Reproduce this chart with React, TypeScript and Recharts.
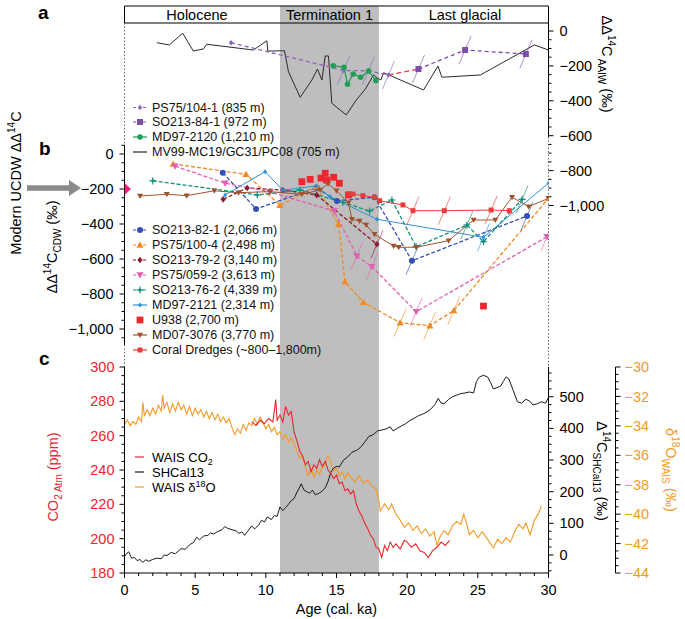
import React from 'react';
import { ComposedChart, Line, XAxis, YAxis, ReferenceArea, ReferenceLine } from 'recharts';

const FONT = '"Liberation Sans", Arial, Helvetica, sans-serif';

type Pt = [number, number, number?]; // [age ka, value, has error line]

// ---- panel a: ΔΔ14C AAIW (‰) ----
const mv99: Pt[] = [[2.28,-67],[3.17,-80],[4.12,-13],[4.87,-115],[5.58,-103],[5.82,-76],[9.12,-109],[10.07,-56],[10.14,-115],[11.32,-113],[11.6,-233],[12.43,-380],[13.26,-281],[13.65,-218],[13.97,-281],[14.2,-143],[14.43,-143],[14.67,-414],[15.26,-453],[15.69,-481],[16.44,-391],[17.03,-334],[17.62,-252],[17.81,-265],[18.14,-281],[18.33,-239],[21.16,-338],[22.18,-201],[22.46,-265],[25.18,-252],[29.0,-80],[30.0,-109]];
const ps75_104: Pt[] = [[7.54,-67],[15.5,-226,1],[17.25,-228,1],[18.68,-252,1]];
const aaiwLink: Pt[] = [[18.68,-252],[20.8,-218]];
const so213_84: Pt[] = [[20.8,-218,1],[24.1,-109,1],[28.4,-132,1]];
const md97_2120: Pt[] = [[14.77,-199],[15.53,-208],[15.78,-305],[16.18,-246],[16.71,-265],[17.27,-229],[17.79,-284]];

// ---- panel b: ΔΔ14C CDW (‰) ----
const so213_82: Pt[] = [[6.95,-107],[9.31,-314],[13.6,-193],[15.03,-269],[17.69,-247],[20.34,-610,1],[28.48,-354,1]];
const ps75_100: Pt[] = [[3.45,-57],[8.6,-116],[11.0,-293],[13.6,-187],[15.14,-402],[15.6,-730],[16.9,-847],[19.5,-964,1],[21.6,-981,1],[23.3,-895,1],[30.0,-253]];
const so213_79: Pt[] = [[6.98,-259],[8.68,-194],[11.2,-206],[13.6,-234],[17.86,-516,1]];
const ps75_059: Pt[] = [[3.58,-69],[7.12,-167],[10.3,-217],[14.84,-326],[16.44,-583,1],[17.5,-644,1],[20.64,-901,1],[29.9,-473,1]];
const so213_76: Pt[] = [[2.0,-153],[9.4,-234],[12.43,-206],[15.45,-276],[17.34,-326],[18.92,-263],[20.64,-530],[24.23,-406,1],[25.4,-501],[28.13,-259,1]];
const md97_2121: Pt[] = [[7.12,-234],[9.95,-101],[11.2,-206],[13.56,-183],[14.55,-244],[17.86,-373],[25.4,-476,1],[30.0,-167]];
const u938: Pt[] = [[12.55,-158],[13.14,-145],[13.9,-138],[14.2,-110],[14.3,-149],[14.8,-133],[15.2,-167],[15.85,-234],[25.4,-869]];
const md07_3076: Pt[] = [[1.1,-240],[2.99,-230],[4.4,-238],[6.36,-210],[8.06,-221],[10.3,-215],[12.55,-230],[13.85,-206],[14.4,-170],[15.0,-210],[15.85,-278],[16.09,-373],[16.63,-383],[17.1,-406],[17.69,-459],[19.04,-526],[19.4,-533],[20.64,-533],[22.93,-495],[24.7,-377],[26.24,-377],[27.42,-247],[28.6,-301],[30.0,-253]];
const coral: Pt[] = [[15.85,-229],[16.16,-229],[16.87,-238],[17.69,-247],[18.05,-267],[19.7,-291],[20.41,-324,1],[22.63,-324,1],[25.94,-320,1],[27.23,-324]];
const modernUcdw: Pt[] = [[0,-200]];

// ---- panel c ----
const waisCo2: Pt[] = [[9.0,268],[9.3,266],[9.6,269],[9.9,267],[10.2,270],[10.5,268],[10.7,281],[10.8,269],[11.0,272],[11.2,268],[11.4,277],[11.6,272],[11.8,274],[12.0,262],[12.2,257],[12.4,251],[12.6,248],[12.8,243],[13.0,245],[13.2,239],[13.4,243],[13.6,241],[13.8,246],[14.0,242],[14.2,245],[14.4,240],[14.6,238],[14.8,235],[15.0,237],[15.2,232],[15.4,233],[15.6,228],[15.8,229],[16.0,226],[16.2,228],[16.4,220],[16.6,216],[16.8,213],[17.0,209],[17.2,206],[17.4,202],[17.6,200],[17.8,195],[18.0,194],[18.2,189],[18.4,196],[18.6,193],[18.8,198],[19.0,195],[19.2,197],[19.5,194],[19.8,199],[20.0,198],[20.3,195],[20.6,197],[20.9,193],[21.2,192],[21.5,189],[21.8,193],[22.1,195],[22.4,198],[22.7,196],[23.0,199]];
const shcal13: Pt[] = [[0.0,-5],[0.15,5],[0.3,10],[0.5,-10],[0.7,-8],[0.9,-18],[1.1,-14],[1.3,-24],[1.5,-15],[1.7,-20],[2.0,-14],[2.3,-10],[2.6,-12],[2.8,0],[3.0,-2],[3.3,8],[3.6,4],[4.0,20],[4.3,18],[4.6,32],[4.9,40],[5.1,56],[5.3,48],[5.6,60],[5.9,62],[6.1,70],[6.3,66],[6.6,74],[6.9,80],[7.1,90],[7.3,84],[7.6,80],[7.9,76],[8.1,68],[8.3,73],[8.5,62],[8.7,74],[9.0,92],[9.2,82],[9.5,95],[9.7,110],[9.9,104],[10.1,120],[10.4,112],[10.6,125],[10.8,122],[11.0,152],[11.2,140],[11.4,150],[11.6,160],[11.8,172],[12.0,178],[12.2,198],[12.4,215],[12.5,225],[12.7,205],[12.9,200],[13.1,195],[13.3,205],[13.5,190],[13.8,196],[14.0,202],[14.2,212],[14.4,232],[14.6,262],[14.8,275],[15.0,280],[15.2,278],[15.5,300],[15.8,310],[16.1,325],[16.4,330],[16.7,340],[17.0,357],[17.3,375],[17.6,380],[17.9,392],[18.2,395],[18.5,398],[18.8,405],[19.0,392],[19.3,400],[19.6,408],[19.9,415],[20.2,425],[20.5,432],[20.8,440],[21.1,445],[21.4,452],[21.7,462],[22.0,478],[22.2,495],[22.4,480],[22.6,478],[22.9,490],[23.2,500],[23.5,505],[23.8,510],[24.1,512],[24.4,515],[24.7,512],[24.9,548],[25.1,562],[25.4,568],[25.7,562],[25.9,545],[26.1,525],[26.3,528],[26.6,533],[26.8,548],[27.0,563],[27.2,556],[27.5,520],[27.8,484],[28.1,480],[28.4,492],[28.7,485],[28.9,474],[29.2,478],[29.5,484],[29.8,480],[30.0,498]];
const waisD18O: Pt[] = [[0.0,-33.9],[0.2,-33.6],[0.4,-34.0],[0.6,-33.7],[0.8,-33.9],[1.0,-33.4],[1.2,-33.7],[1.3,-32.4],[1.4,-33.3],[1.6,-32.9],[1.8,-33.3],[2.0,-32.8],[2.2,-33.2],[2.4,-32.6],[2.6,-33.0],[2.7,-31.9],[2.8,-32.8],[3.0,-32.4],[3.2,-33.1],[3.4,-32.5],[3.6,-33.0],[3.8,-32.4],[4.0,-32.9],[4.2,-32.6],[4.4,-33.2],[4.6,-32.7],[4.8,-33.3],[5.0,-32.8],[5.2,-33.2],[5.4,-32.9],[5.6,-33.4],[5.8,-33.0],[6.0,-33.5],[6.2,-33.1],[6.4,-33.6],[6.6,-33.2],[6.8,-33.7],[7.0,-33.4],[7.2,-33.8],[7.4,-33.5],[7.6,-34.1],[7.8,-34.6],[8.0,-34.2],[8.2,-34.5],[8.4,-33.9],[8.6,-34.3],[8.8,-33.8],[9.0,-34.0],[9.2,-33.5],[9.4,-33.9],[9.6,-33.4],[9.8,-33.8],[10.0,-34.2],[10.2,-33.9],[10.4,-34.4],[10.6,-34.1],[10.8,-34.6],[11.0,-34.4],[11.2,-34.9],[11.4,-34.6],[11.6,-35.1],[11.8,-34.8],[12.0,-35.3],[12.2,-35.7],[12.4,-36.2],[12.6,-36.0],[12.8,-36.8],[13.0,-37.4],[13.2,-36.9],[13.4,-37.5],[13.6,-37.0],[13.8,-37.3],[14.0,-36.8],[14.2,-36.6],[14.4,-36.0],[14.6,-36.5],[14.8,-37.1],[15.0,-36.9],[15.2,-37.4],[15.4,-37.1],[15.6,-37.6],[15.8,-37.2],[16.0,-37.5],[16.3,-37.8],[16.6,-37.4],[16.9,-37.9],[17.2,-37.7],[17.5,-38.1],[17.8,-38.3],[18.0,-39.1],[18.1,-39.8],[18.4,-39.3],[18.7,-39.7],[18.9,-39.3],[19.2,-40.0],[19.5,-40.4],[19.8,-40.9],[20.1,-40.6],[20.4,-41.1],[20.7,-40.8],[21.0,-41.3],[21.3,-41.0],[21.6,-41.5],[21.9,-41.2],[22.1,-42.1],[22.3,-41.6],[22.6,-41.1],[22.9,-41.4],[23.2,-40.8],[23.5,-40.5],[23.8,-40.7],[24.0,-40.0],[24.2,-40.6],[24.4,-41.4],[24.7,-41.1],[25.0,-41.6],[25.3,-41.2],[25.6,-41.6],[25.9,-42.0],[26.1,-42.3],[26.4,-41.7],[26.7,-42.0],[27.0,-41.6],[27.3,-41.9],[27.6,-41.2],[27.9,-40.7],[28.2,-41.0],[28.4,-40.6],[28.7,-41.4],[29.0,-40.4],[29.2,-40.1],[29.4,-39.7],[29.5,-39.4]];

// ---- axes / ticks ----
const ticksA = [0,-50,-100,-150,-200,-250,-300,-350,-400,-450,-500,-550,-600,-650,-700,-750,-800,-850,-900,-950,-1000,-1050];
const majorsA = [0,-200,-400,-600,-800,-1000];
const ticksB = [50,0,-50,-100,-150,-200,-250,-300,-350,-400,-450,-500,-550,-600,-650,-700,-750,-800,-850,-900,-950,-1000,-1050];
const majorsB = [0,-200,-400,-600,-800,-1000];
const ticksCo2 = [180,185,190,195,200,205,210,215,220,225,230,235,240,245,250,255,260,265,270,275,280,285,290,295,300];
const majorsCo2 = [180,200,220,240,260,280,300];
const ticksSh = [-50,-25,0,25,50,75,100,125,150,175,200,225,250,275,300,325,350,375,400,425,450,475,500,525,550,575];
const majorsSh = [0,100,200,300,400,500];
const ticksD18 = [-44,-43.5,-43,-42.5,-42,-41.5,-41,-40.5,-40,-39.5,-39,-38.5,-38,-37.5,-37,-36.5,-36,-35.5,-35,-34.5,-34,-33.5,-33,-32.5,-32,-31.5,-31,-30.5,-30];
const majorsD18 = [-44,-42,-40,-38,-36,-34,-32,-30];
const ticksAge = [0,1,2,3,4,5,6,7,8,9,10,11,12,13,14,15,16,17,18,19,20,21,22,23,24,25,26,27,28,29,30];

const DOM_A: [number, number] = [-1925.5, 149];
const DOM_B: [number, number] = [-1217.1, 851.4];
const GRAY = '#bebebe';
const ORANGE = '#f39a26';
const RED = '#e8262e';

const rows = (pts: Pt[]) => pts.map(([x, v, e]) => ({ x, v, e: e ? 1 : 0 }));
const fmt = (v: number) => (v < 0 ? '\u2212' : '') + Math.abs(v).toLocaleString('en-US');

function Mark({ cx, cy, shape, color, s = 3, err }: any) {
  if (cx == null || cy == null || !shape) return <g />;
  let m: any = null;
  if (shape === 'circle') m = <circle cx={cx} cy={cy} r={s} fill={color} />;
  else if (shape === 'square') m = <rect x={cx - s} y={cy - s} width={2 * s} height={2 * s} fill={color} />;
  else if (shape === 'up') m = <polygon points={`${cx},${cy - s} ${cx + s},${cy + s * 0.75} ${cx - s},${cy + s * 0.75}`} fill={color} />;
  else if (shape === 'down') m = <polygon points={`${cx - s},${cy - s * 0.75} ${cx + s},${cy - s * 0.75} ${cx},${cy + s}`} fill={color} />;
  else if (shape === 'diamond') m = <polygon points={`${cx},${cy - s} ${cx + s * 0.8},${cy} ${cx},${cy + s} ${cx - s * 0.8},${cy}`} fill={color} />;
  else if (shape === 'plus')
    m = (
      <g>
        <line x1={cx - s} y1={cy} x2={cx + s} y2={cy} stroke={color} strokeWidth={1.1} />
        <line x1={cx} y1={cy - s} x2={cx} y2={cy + s} stroke={color} strokeWidth={1.1} />
        <polygon points={`${cx},${cy - 2} ${cx + 2},${cy} ${cx},${cy + 2} ${cx - 2},${cy}`} fill={color} />
      </g>
    );
  else if (shape === 'right') m = <polygon points={`${cx},${cy - 6} ${cx + 6.5},${cy} ${cx},${cy + 6}`} fill={color} />;
  return (
    <g>
      {err ? <line x1={cx - 6} y1={cy + 14} x2={cx + 6} y2={cy - 14} stroke={color} strokeOpacity={0.7} strokeWidth={0.9} /> : null}
      {m}
    </g>
  );
}

function YTick(props: any) {
  const { x, y, payload, side, majors, color = '#000', gap = 11 } = props;
  const v = payload.value;
  const major = majors.includes(v);
  const dir = side === 'left' ? -1 : 1;
  const len = major ? 5 : 3;
  return (
    <g>
      <line x1={x} y1={y} x2={x + dir * len} y2={y} stroke="#000" strokeWidth={1} />
      {major && (
        <text x={x + dir * gap} y={y} dy="0.35em" textAnchor={side === 'left' ? 'end' : 'start'} fill={color} fontSize={14.5} fontFamily={FONT}>
          {fmt(v)}
        </text>
      )}
    </g>
  );
}

function XTick(props: any) {
  const { x, y, payload } = props;
  const v = payload.value;
  const major = v % 5 === 0;
  return (
    <g>
      <line x1={x} y1={y} x2={x} y2={y + (major ? 5 : 3)} stroke="#000" strokeWidth={1} />
      {major && (
        <text x={x} y={y + 22} textAnchor="middle" fontSize={14.5} fontFamily={FONT} fill="#000">
          {v}
        </text>
      )}
    </g>
  );
}

type Series = { key: string; label: string; data: Pt[]; color: string; dash?: string; shape?: string; s?: number; width?: number; noLine?: boolean; axis: string };

const seriesA: Series[] = [
  { key: 'mv99', label: 'MV99-MC19/GC31/PC08 (705 m)', data: mv99, color: '#2a2a2a', width: 1, axis: 'a' },
  { key: 'ps75_104', label: 'PS75/104-1 (835 m)', data: ps75_104, color: '#8d63bb', dash: '4 3', shape: 'diamond', s: 2.8, axis: 'a' },
  { key: 'link', label: '', data: aaiwLink, color: '#ee3a3a', dash: '5 3', axis: 'a' },
  { key: 'so213_84', label: 'SO213-84-1 (972 m)', data: so213_84, color: '#7b4ea8', dash: '4 3', shape: 'square', s: 3, axis: 'a' },
  { key: 'md97_2120', label: 'MD97-2120 (1,210 m)', data: md97_2120, color: '#1f9e55', shape: 'circle', s: 2.8, axis: 'a' },
];
const legendA = ['ps75_104', 'so213_84', 'md97_2120', 'mv99'];

const seriesB: Series[] = [
  { key: 'so213_82', label: 'SO213-82-1 (2,066 m)', data: so213_82, color: '#3450b4', dash: '4 2', shape: 'circle', s: 3, axis: 'b' },
  { key: 'ps75_100', label: 'PS75/100-4 (2,498 m)', data: ps75_100, color: '#f28a24', dash: '4 2', shape: 'up', s: 3.6, axis: 'b' },
  { key: 'so213_79', label: 'SO213-79-2 (3,140 m)', data: so213_79, color: '#8b1a2e', dash: '4 2', shape: 'diamond', s: 3.3, axis: 'b' },
  { key: 'ps75_059', label: 'PS75/059-2 (3,613 m)', data: ps75_059, color: '#e060b4', dash: '4 2', shape: 'down', s: 3.6, axis: 'b' },
  { key: 'so213_76', label: 'SO213-76-2 (4,339 m)', data: so213_76, color: '#15917a', dash: '4 2', shape: 'plus', s: 3.6, axis: 'b' },
  { key: 'md97_2121', label: 'MD97-2121 (2,314 m)', data: md97_2121, color: '#2d92d6', shape: 'diamond', s: 2.5, width: 1, axis: 'b' },
  { key: 'u938', label: 'U938 (2,700 m)', data: u938, color: '#ee262e', shape: 'square', s: 3.4, noLine: true, axis: 'b' },
  { key: 'md07_3076', label: 'MD07-3076 (3,770 m)', data: md07_3076, color: '#a0522d', shape: 'down', s: 3, width: 1, axis: 'b' },
  { key: 'coral', label: 'Coral Dredges (~800\u20131,800m)', data: coral, color: '#ec3b3b', shape: 'square', s: 2.5, width: 1, axis: 'b' },
];

function renderSeries(sr: Series) {
  return (
    <Line
      key={sr.key}
      yAxisId={sr.axis}
      data={rows(sr.data)}
      dataKey="v"
      type="linear"
      stroke={sr.noLine ? 'none' : sr.color}
      strokeWidth={sr.width ?? 1.3}
      strokeDasharray={sr.dash}
      isAnimationActive={false}
      dot={sr.shape ? (p: any) => <Mark key={`${sr.key}-${p.index}`} cx={p.cx} cy={p.cy} shape={sr.shape} color={sr.color} s={sr.s} err={p.payload?.e} /> : false}
      activeDot={false}
    />
  );
}

function LegendRow({ sr, x, y }: { sr: Series; x: number; y: number }) {
  return (
    <g>
      {!sr.noLine && <line x1={x - 7} y1={y} x2={x + 7} y2={y} stroke={sr.color} strokeWidth={1.2} strokeDasharray={sr.dash ? '3 2' : undefined} />}
      <Mark cx={x} cy={y} shape={sr.shape} color={sr.color} s={sr.s} />
      <text x={152} y={y} dy="0.35em" fontSize={12.5} fontFamily={FONT} fill="#111">
        {sr.label}
      </text>
    </g>
  );
}

export default function App() {
  const legendRowsB = [230, 245, 260, 275, 290, 305, 320, 335, 350];
  const legendRowsA = [107.5, 122, 137, 152];
  return (
    <div style={{ position: 'absolute', left: 0, top: 0, width: 685, height: 619, background: '#fff', fontFamily: FONT }}>
      {/* panels a + b */}
      <div style={{ position: 'absolute', left: 0, top: 0 }}>
        <ComposedChart width={685} height={367} margin={{ top: 5, right: 0, bottom: 0, left: 0 }}>
          <XAxis type="number" dataKey="x" domain={[0, 30]} hide height={0} allowDataOverflow />
          <YAxis yAxisId="b" orientation="left" width={124.5} type="number" domain={DOM_B} ticks={ticksB} interval={0} axisLine={false} tickLine={false} tickSize={0} tickMargin={0} allowDataOverflow
            tick={(p: any) => <YTick {...p} side="left" majors={majorsB} />} />
          <YAxis yAxisId="a" orientation="right" width={136.5} type="number" domain={DOM_A} ticks={ticksA} interval={0} axisLine={false} tickLine={false} tickSize={0} tickMargin={0} allowDataOverflow
            tick={(p: any) => <YTick {...p} side="right" majors={majorsA} />} />
          <ReferenceArea yAxisId="a" x1={11} x2={18} y1={DOM_A[0]} y2={143.3} fill={GRAY} fillOpacity={1} stroke="none" ifOverflow="visible" />
          <ReferenceArea yAxisId="a" x1={0} x2={30} y1={45.8} y2={143.3} fill="none" stroke="#000" strokeWidth={1} ifOverflow="visible" />
          <ReferenceLine yAxisId="b" segment={[{ x: 0, y: 748.6 }, { x: 0, y: 51.4 }]} stroke="#666" strokeDasharray="1.5 2" ifOverflow="visible" />
          <ReferenceLine yAxisId="b" segment={[{ x: 0, y: 51.4 }, { x: 0, y: -1091 }]} stroke="#000" ifOverflow="visible" />
          <ReferenceLine yAxisId="b" segment={[{ x: 0, y: -1091 }, { x: 0, y: DOM_B[0] }]} stroke="#666" strokeDasharray="1.5 2" ifOverflow="visible" />
          <ReferenceLine yAxisId="a" segment={[{ x: 30, y: 45.8 }, { x: 30, y: -607 }]} stroke="#000" ifOverflow="visible" />
          <ReferenceLine yAxisId="a" segment={[{ x: 30, y: -607 }, { x: 30, y: DOM_A[0] }]} stroke="#666" strokeDasharray="1.5 2" ifOverflow="visible" />
          {seriesA.map(renderSeries)}
          {seriesB.map(renderSeries)}
          <Line yAxisId="b" data={rows(modernUcdw)} dataKey="v" stroke="none" isAnimationActive={false} activeDot={false}
            dot={(p: any) => <Mark key={`m-${p.index}`} cx={p.cx} cy={p.cy} shape="right" color="#e8237f" />} />
        </ComposedChart>
      </div>

      {/* panel c */}
      <div style={{ position: 'absolute', left: 0, top: 0 }}>
        <ComposedChart width={685} height={619} margin={{ top: 367, right: 0, bottom: 0, left: 0 }}>
          <XAxis type="number" dataKey="x" domain={[0, 30]} ticks={ticksAge} interval={0} height={46} axisLine={{ stroke: '#000' }} tickLine={false} tickSize={0} tickMargin={0} allowDataOverflow
            tick={(p: any) => <XTick {...p} />} />
          <YAxis yAxisId="co2" orientation="left" width={124.5} type="number" domain={[180, 300]} ticks={ticksCo2} interval={0} axisLine={{ stroke: '#000' }} tickLine={false} tickSize={0} tickMargin={0} allowDataOverflow
            tick={(p: any) => <YTick {...p} side="left" majors={majorsCo2} color={RED} gap={10} />} />
          <YAxis yAxisId="r2" orientation="right" width={69.5} type="number" domain={[-44, -30]} ticks={ticksD18} interval={0} axisLine={{ stroke: '#000' }} tickLine={false} tickSize={0} tickMargin={0} allowDataOverflow
            tick={(p: any) => <YTick {...p} side="right" majors={majorsD18} color={ORANGE} gap={9} />} />
          <YAxis yAxisId="r1" orientation="right" width={67} type="number" domain={[-57, 594]} ticks={ticksSh} interval={0} axisLine={{ stroke: '#000' }} tickLine={false} tickSize={0} tickMargin={0} allowDataOverflow
            tick={(p: any) => <YTick {...p} side="right" majors={majorsSh} gap={11} />} />
          <ReferenceArea yAxisId="co2" x1={11} x2={18} y1={180} y2={300} fill={GRAY} fillOpacity={1} stroke="none" />
          <Line yAxisId="r2" data={rows(waisD18O)} dataKey="v" stroke={ORANGE} strokeWidth={1.1} dot={false} activeDot={false} isAnimationActive={false} />
          <Line yAxisId="r1" data={rows(shcal13)} dataKey="v" stroke="#1a1a1a" strokeWidth={1} dot={false} activeDot={false} isAnimationActive={false} />
          <Line yAxisId="co2" data={rows(waisCo2)} dataKey="v" stroke={RED} strokeWidth={1.1} dot={false} activeDot={false} isAnimationActive={false} />
        </ComposedChart>
      </div>

      {/* text, legends, arrow */}
      <svg width={685} height={619} style={{ position: 'absolute', left: 0, top: 0, pointerEvents: 'none' }} fontFamily={FONT}>
        <text x={38} y={19} fontSize={19} fontWeight="bold">a</text>
        <text x={39} y={155} fontSize={19} fontWeight="bold">b</text>
        <text x={39} y={365} fontSize={19} fontWeight="bold">c</text>

        <text x={197} y={19.5} textAnchor="middle" fontSize={14.5}>Holocene</text>
        <text x={329.5} y={19.5} textAnchor="middle" fontSize={14.5}>Termination 1</text>
        <text x={465} y={19.5} textAnchor="middle" fontSize={14.5}>Last glacial</text>

        <text transform="translate(602,64) rotate(90)" textAnchor="middle" fontSize={14.5}>
          ΔΔ<tspan dy={-6} fontSize={10}>14</tspan><tspan dy={6}>C</tspan><tspan dy={4} fontSize={10}> AAIW</tspan><tspan dy={-4}> (‰)</tspan>
        </text>
        <text transform="translate(21,183) rotate(-90)" textAnchor="middle" fontSize={14.5}>
          Modern UCDW ΔΔ<tspan dy={-6} fontSize={10}>14</tspan><tspan dy={6}>C</tspan>
        </text>
        <text transform="translate(57,247) rotate(-90)" textAnchor="middle" fontSize={14.5}>
          ΔΔ<tspan dy={-6} fontSize={10}>14</tspan><tspan dy={6}>C</tspan><tspan dy={4} fontSize={10}>CDW</tspan><tspan dy={-4}> (‰)</tspan>
        </text>
        <text transform="translate(58,477) rotate(-90)" textAnchor="middle" fontSize={14.5} fill={RED}>
          CO<tspan dy={4} fontSize={10}>2 Atm</tspan><tspan dy={-4}> (ppm)</tspan>
        </text>
        <text transform="translate(597,471) rotate(90)" textAnchor="middle" fontSize={14.5}>
          Δ<tspan dy={-6} fontSize={10}>14</tspan><tspan dy={6}>C</tspan><tspan dy={4} fontSize={10}>SHCal13</tspan><tspan dy={-4}> (‰)</tspan>
        </text>
        <text transform="translate(666,470) rotate(90)" textAnchor="middle" fontSize={14.5} fill={ORANGE}>
          δ<tspan dy={-6} fontSize={10}>18</tspan><tspan dy={6}>O</tspan><tspan dy={4} fontSize={10}>WAIS</tspan><tspan dy={-4}> (‰)</tspan>
        </text>
        <text x={336.5} y={614} textAnchor="middle" fontSize={14.5}>Age (cal. ka)</text>

        {/* arrow to modern UCDW */}
        <rect x={27} y={185.3} width={44} height={5.5} fill="#8a8a8a" />
        <polygon points="69,180 81,188 69,196" fill="#8a8a8a" />

        {legendA.map((k, i) => {
          const sr = seriesA.find((s) => s.key === k)!;
          return <LegendRow key={k} sr={sr} x={140} y={legendRowsA[i]} />;
        })}
        {seriesB.map((sr, i) => (
          <LegendRow key={sr.key} sr={sr} x={140} y={legendRowsB[i]} />
        ))}

        <line x1={135} y1={457} x2={144} y2={457} stroke={RED} strokeWidth={1.2} />
        <text x={152} y={461.5} fontSize={13}>WAIS CO<tspan dy={3} fontSize={9}>2</tspan></text>
        <line x1={135} y1={472} x2={144} y2={472} stroke="#1a1a1a" strokeWidth={1.2} />
        <text x={152} y={476.5} fontSize={13}>SHCal13</text>
        <line x1={135} y1={487} x2={144} y2={487} stroke={ORANGE} strokeWidth={1.2} />
        <text x={152} y={491.5} fontSize={13}>WAIS δ<tspan dy={-5} fontSize={9}>18</tspan><tspan dy={5}>O</tspan></text>
      </svg>
    </div>
  );
}
